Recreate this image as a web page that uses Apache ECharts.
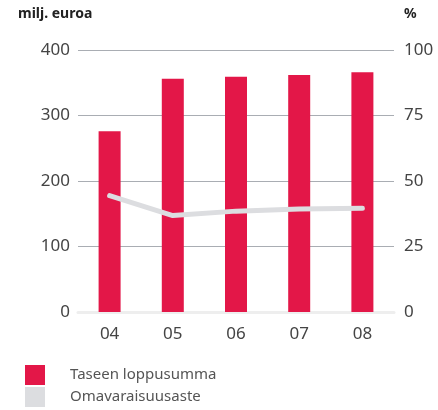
<!DOCTYPE html>
<html>
<head>
<meta charset="utf-8">
<script src="https://cdn.jsdelivr.net/npm/echarts@6/dist/echarts.min.js"></script>
<style>
  html, body { margin: 0; padding: 0; background: #fff; }
  #chart { width: 438px; height: 410px; }
</style>
</head>
<body>
<div id="chart"></div>
<script>
// vuodet
var years = ['04', '05', '06', '07', '08']
// Taseen loppusumma, milj. euroa
var totalAssets = [276, 356, 359, 362, 366]
// Omavaraisuusaste, %
var equityRatio = [44.4, 36.8, 38.5, 39.3, 39.6]

var chart = echarts.init(document.getElementById('chart'))
var font = '"Noto Sans", sans-serif'
var option = {
  animation: false,
  textStyle: { fontFamily: font },
  grid: { left: 78, right: 44, top: 50, bottom: 98 },
  graphic: [
    { type: 'text', left: 18, top: 7, style: { text: 'milj. euroa', font: 'bold 14px ' + font, fill: '#222' } },
    { type: 'text', left: 404, top: 7, style: { text: '%', font: 'bold 14px ' + font, fill: '#222' } }
  ],
  legend: {
    orient: 'vertical',
    left: 25,
    top: 365,
    padding: 0,
    itemWidth: 20,
    itemHeight: 20,
    itemGap: 2,
    icon: 'rect',
    textStyle: { fontSize: 15, color: '#555', padding: [0, 0, 0, 20], fontFamily: font },
    data: ['Taseen loppusumma', 'Omavaraisuusaste']
  },
  xAxis: {
    type: 'category',
    data: years,
    axisTick: { show: false },
    axisLine: { show: true, lineStyle: { color: '#eeeeee', width: 3 } },
    axisLabel: { fontSize: 17, color: '#444', margin: 14 }
  },
  yAxis: [
    {
      type: 'value', min: 0, max: 400, interval: 100,
      axisLine: { show: false }, axisTick: { show: false },
      axisLabel: { fontSize: 17, color: '#444', margin: 8 },
      splitLine: { lineStyle: { color: '#a9adb3', width: 1 } }
    },
    {
      type: 'value', min: 0, max: 100, interval: 25,
      axisLine: { show: false }, axisTick: { show: false },
      axisLabel: { fontSize: 17, color: '#444', margin: 10 },
      splitLine: { show: false }
    }
  ],
  series: [
    {
      name: 'Taseen loppusumma',
      type: 'bar',
      barWidth: 22,
      itemStyle: { color: '#e31748' },
      data: totalAssets
    },
    {
      name: 'Omavaraisuusaste',
      type: 'line',
      yAxisIndex: 1,
      symbol: 'none',
      lineStyle: { color: '#dcdde0', width: 5, cap: 'round' },
      itemStyle: { color: '#dcdde0' },
      data: equityRatio
    }
  ]
}
chart.setOption(option)
</script>
</body>
</html>
